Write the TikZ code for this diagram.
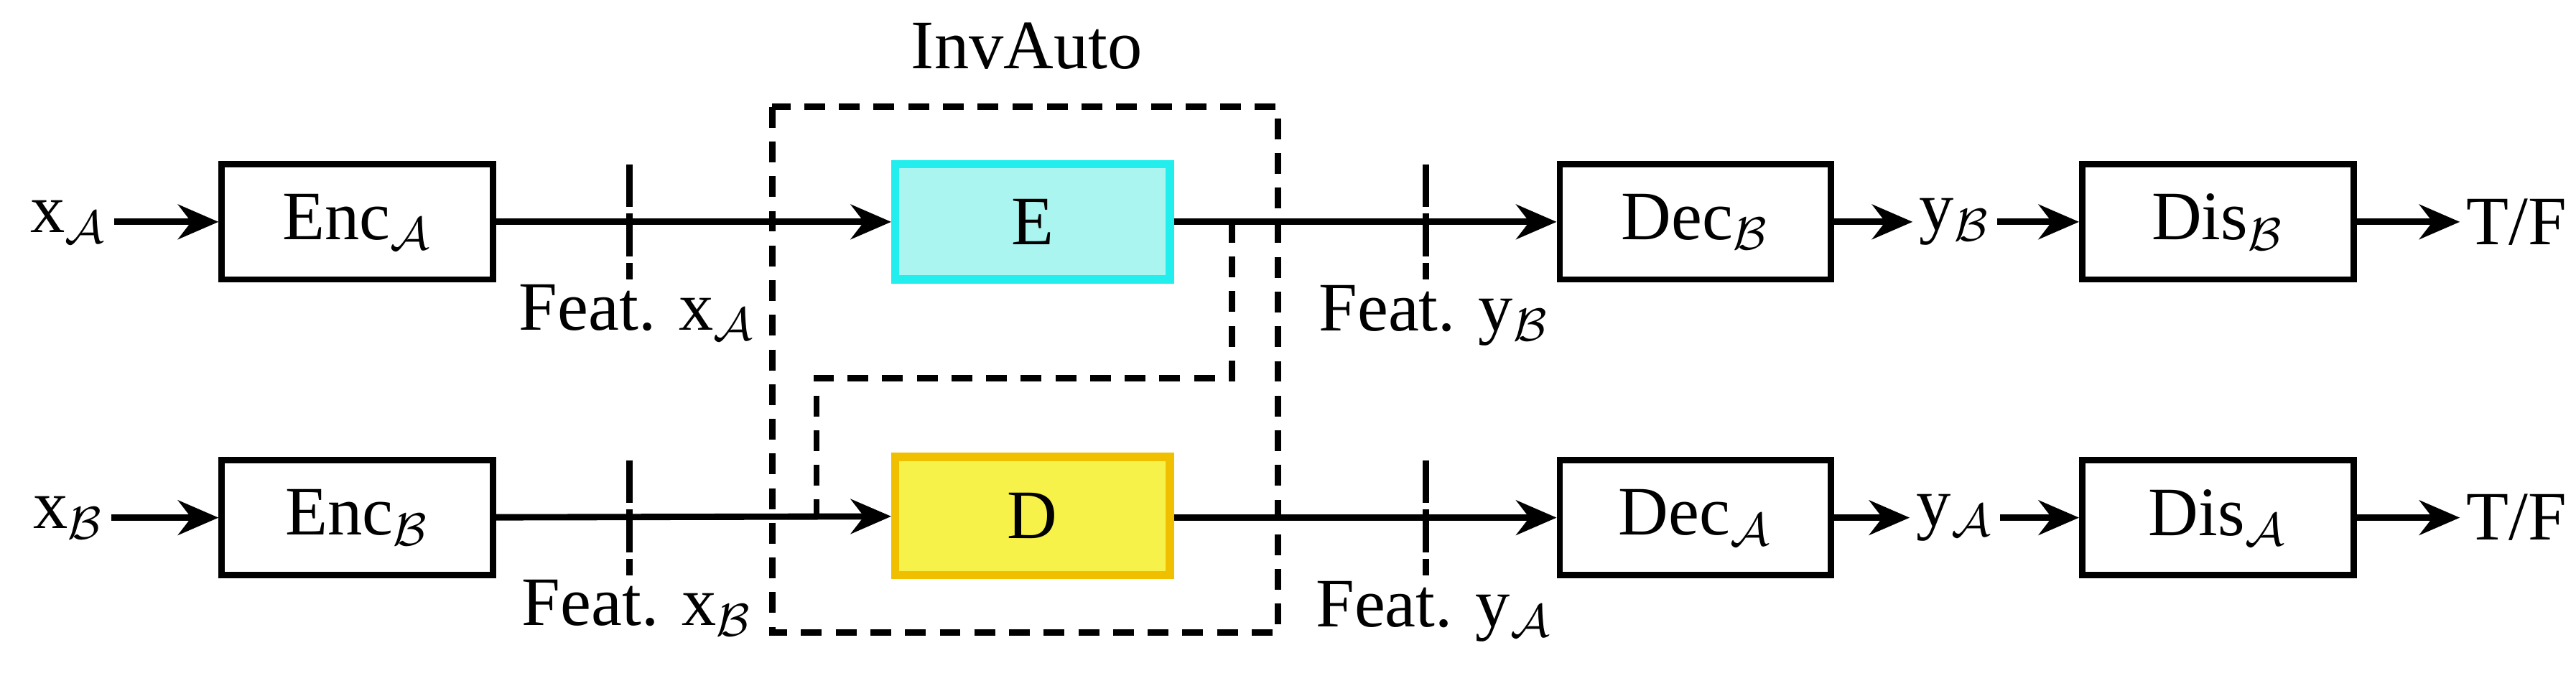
\documentclass[tikz,border=0pt]{standalone}
\usepackage{fontspec}
\setmainfont{Liberation Serif}
\usetikzlibrary{arrows.meta}
\definecolor{cyb}{HTML}{22EEEE}\definecolor{cyf}{HTML}{AAF5F0}
\definecolor{yeb}{HTML}{F0C000}\definecolor{yef}{HTML}{F7F24A}
\begin{document}
\begin{tikzpicture}[x=0.01cm,y=-0.01cm,font=\fontsize{12}{14}\selectfont,
 box/.style={draw,line width=1.1pt,minimum width=1.65cm,minimum height=0.7cm,inner sep=0pt},
 arr/.style={line width=1.1pt,-{Stealth[length=7pt,width=6pt]}},
 tick/.style={line width=1.1pt,dash pattern=on 0.26cm off 0.04cm},
 dsh/.style={line width=1.1pt,dash pattern=on 3.6pt off 2.4pt}]
\useasboundingbox (0,0) rectangle (1568,414);
\draw[dsh] (470,65) rectangle (778,385);
\node at (625,28) {InvAuto};
\foreach \r/\y/\s/\t in {1/135/A/B,2/315/B/A}{
 \node[inner sep=1pt] (x\r) at (42,\y) {x$_{\mathcal{\s}}$};
 \node[box] (enc\r) at (217.5,\y) {Enc$_{\mathcal{\s}}$};
 \node[box] (dec\r) at (1032,\y) {Dec$_{\mathcal{\t}}$};
 \node[inner sep=1pt] (y\r) at (1190,\y) {y$_{\mathcal{\t}}$};
 \node[box] (dis\r) at (1350,\y) {Dis$_{\mathcal{\t}}$};
 \node[inner sep=1pt] (tf\r) at (1532,\y) {T/F};
 \draw[arr] (x\r) -- (enc\r);
 \draw[arr] (dec\r) -- (y\r);
 \draw[arr] (y\r) -- (dis\r);
 \draw[arr] (dis\r) -- (tf\r);
 \draw[tick] (383,\y-35) -- (383,\y+35);
 \draw[tick] (868,\y-35) -- (868,\y+35);
 \node (fx\r) at (388,\y+55) {Feat. x$_{\mathcal{\s}}$};
 \node (fy\r) at (873,\y+57) {Feat. y$_{\mathcal{\t}}$};
}
\node[box,draw=cyb,fill=cyf,line width=1.4pt,minimum width=1.67cm] (E) at (628.5,135) {E};
\node[box,draw=yeb,fill=yef,line width=1.4pt,minimum width=1.67cm,minimum height=0.72cm] (D) at (628.5,314) {D};
\draw[arr] (enc1) -- (E);
\draw[arr] (enc2) -- (D);
\draw[arr] (E) -- (dec1);
\draw[arr] (D.east|-dec2) -- (dec2);
\coordinate (p) at (750,135);
\coordinate (q) at (497,315);
\draw[dsh] (p) -- (750,230) -- (497,230) -- (q);
\end{tikzpicture}
\end{document}
